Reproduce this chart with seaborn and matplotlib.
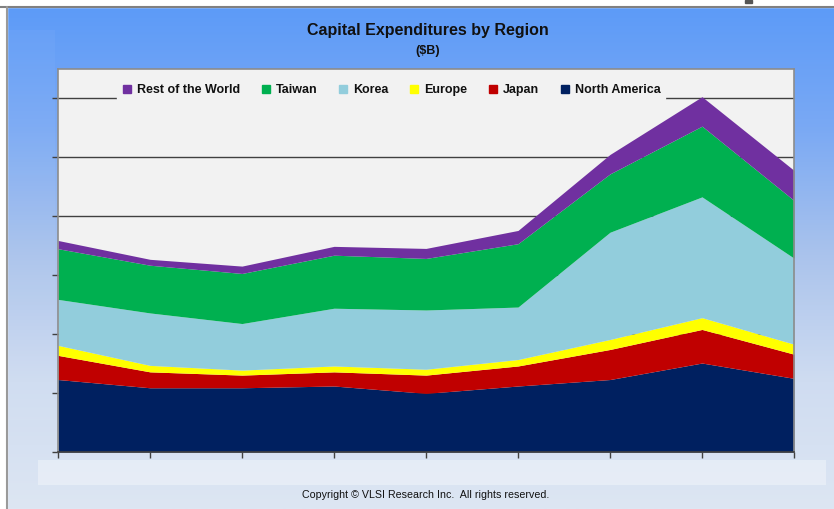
import numpy as np
import pandas as pd
import seaborn as sns
import matplotlib.pyplot as plt
import matplotlib.colors as mcolors
from matplotlib.patches import Rectangle
from matplotlib.lines import Line2D

sns.set_theme(style="white")
plt.rcParams['font.family'] = ['Liberation Sans Narrow', 'Liberation Sans', 'DejaVu Sans']

# ---------------------------
# data ($B), 9 periods
periods = list(range(9))
north_america = [12.3, 10.9, 10.9, 11.2, 9.95, 11.2, 12.3, 15.1, 12.5]
japan = [4.1, 2.7, 2.15, 2.4, 3.1, 3.4, 5.1, 5.7, 4.1]
europe = [1.7, 1.1, 0.85, 1.0, 1.0, 1.1, 1.7, 2.0, 1.7]
korea = [7.8, 8.9, 7.9, 9.8, 10.05, 8.9, 18.2, 20.5, 14.6]
taiwan = [8.6, 8.1, 8.5, 9.0, 8.75, 10.75, 9.9, 12.0, 9.8]
rest_of_world = [1.4, 1.0, 1.25, 1.5, 1.7, 2.25, 3.3, 5.0, 5.1]

regions = ['North America', 'Japan', 'Europe', 'Korea', 'Taiwan', 'Rest of the World']
region_colors = ['#002060', '#C00000', '#FFFF00', '#92CDDC', '#00B050', '#7030A0']

df = pd.DataFrame({
    'North America': north_america,
    'Japan': japan,
    'Europe': europe,
    'Korea': korea,
    'Taiwan': taiwan,
    'Rest of the World': rest_of_world,
}, index=periods)

palette = sns.color_palette(region_colors)

fig = plt.figure(figsize=(8.34, 5.09), dpi=100)

# 背景渐变
bg = fig.add_axes([0, 0, 1, 1], zorder=-10)
grad_cmap = mcolors.LinearSegmentedColormap.from_list(
    'bg', [(0.0, '#5b9af8'), (0.25, '#7aa9f4'), (0.5, '#aac3ec'),
           (0.75, '#cfdcf1'), (1.0, '#dde6f3')])
grad = np.linspace(0, 1, 256).reshape(-1, 1)
bg.imshow(grad, aspect='auto', cmap=grad_cmap, extent=[0, 1, 0, 1], origin='upper')
bg.set_xlim(0, 1)
bg.set_ylim(0, 1)
bg.axis('off')
# screenshot frame bits
bg.add_patch(Rectangle((0, 1 - 6.5 / 509), 1, 6.5 / 509, color='white', zorder=2))
bg.add_patch(Rectangle((0, 0), 6.5 / 834, 1, color='white', zorder=2))
bg.add_line(Line2D([0, 1], [1 - 7 / 509] * 2, color='#808080', lw=1.5, zorder=3))
bg.add_line(Line2D([7 / 834] * 2, [0, 1 - 7 / 509], color='#9a9a9a', lw=1.5, zorder=3))
bg.add_patch(Rectangle((745 / 834, 1 - 3 / 509), 7 / 834, 3 / 509, color='#555555', zorder=3))
bg.add_patch(Rectangle((9 / 834, 1 - 420 / 509), 46 / 834, 390 / 509,
                       color='white', alpha=0.04, lw=0, zorder=1))
bg.add_patch(Rectangle((38 / 834, 1 - 485 / 509), 788 / 834, 25 / 509,
                       color='white', alpha=0.35, lw=0, zorder=1))

# ---------------------------
# stacked area
ax = fig.add_axes([58 / 834, 1 - 452 / 509, 736 / 834, 383 / 509])
ax.set_facecolor('#F2F2F2')
ax.stackplot(df.index, [df[r] for r in regions], colors=palette,
             labels=regions, linewidth=0, zorder=2)

ax.set_xlim(0, 8)
ax.set_ylim(0, 65)
ax.set_xticks(periods)
ax.set_yticks(np.arange(0, 61, 10))
ax.set_xticklabels([])
ax.set_yticklabels([])
ax.tick_params(axis='both', direction='out', length=4, width=1, color='#404040',
               bottom=True, left=True)
ax.yaxis.grid(True, color='#404040', linewidth=1)
ax.xaxis.grid(False)
ax.set_axisbelow(True)
for side in ['top', 'right', 'left']:
    ax.spines[side].set_color('#8c8c8c')
    ax.spines[side].set_linewidth(1.2)
ax.spines['bottom'].set_color('#404040')
ax.spines['bottom'].set_linewidth(1.2)

leg_handles = [Line2D([0], [0], marker='s', linestyle='', markersize=5.5,
                      markerfacecolor=c, markeredgecolor=c) for c in region_colors[::-1]]
leg = ax.legend(leg_handles, regions[::-1], loc='center',
                bbox_to_anchor=(0.452, 0.945), ncol=6, frameon=True,
                facecolor='#F2F2F2', edgecolor='#F2F2F2', framealpha=1,
                prop={'size': 9, 'weight': 'bold'}, handletextpad=0.3,
                columnspacing=1.55, handlelength=1.0, borderpad=0.35)
leg.set_zorder(1.5)
for t in leg.get_texts():
    t.set_color('#111111')

# titles
fig.text(428 / 834, 1 - 30 / 509, 'Capital Expenditures by Region', ha='center',
         va='center', fontsize=11.5, fontweight='bold', color='#111111')
fig.text(428 / 834, 1 - 51 / 509, '($B)', ha='center', va='center',
         fontsize=9, fontweight='bold', color='#111111')
fig.text(426 / 834, 1 - 495 / 509, 'Copyright \u00a9 VLSI Research Inc.  All rights reserved.',
         ha='center', va='center', fontsize=7.7, color='#111111')

fig.savefig('out.png', dpi=100)
